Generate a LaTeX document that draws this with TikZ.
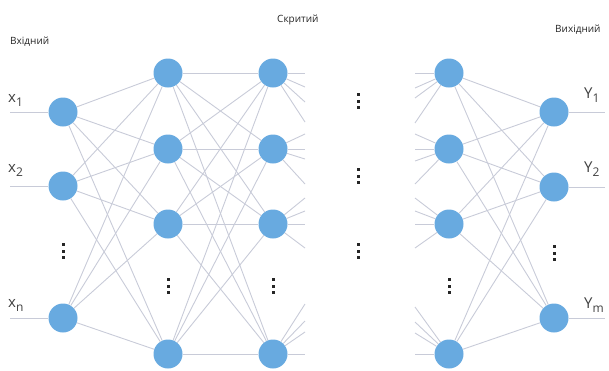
\documentclass[tikz,border=0pt]{standalone}
\usepackage{fontspec}
\setmainfont{Open Sans}
\usetikzlibrary{backgrounds}
\definecolor{nodeblue}{RGB}{104,170,224}
\definecolor{edgegray}{RGB}{200,203,216}
\newcommand\nnlab[2]{{\fontsize{15}{15}\selectfont #1}\raisebox{-4pt}{\fontsize{12}{12}\selectfont #2}}
\begin{document}
\begin{tikzpicture}[x=1pt,y=-1pt,
  neuron/.style={circle,fill=nodeblue,draw=none,minimum size=29pt,inner sep=0pt},
  conn/.style={draw=edgegray,line width=0.9pt},
  title/.style={anchor=base west,font=\fontsize{10}{10}\selectfont,text=black!85,inner sep=0pt},
  lab/.style={anchor=base west,inner sep=0pt,text=black!75},
  dotmark/.style={fill=black!85}]
\useasboundingbox (0,0) rectangle (609,370);
% titles
\node[title] (t1) at (10,44) {Вхідний};
\node[title] (t2) at (277,22) {Скритий};
\node[title] (t3) at (555,32) {Вихідний};
% input layer
\node[neuron] (i1) at (63,112) {};
\node[neuron] (i2) at (63,186) {};
\node[neuron] (i3) at (63,318) {};
% hidden layers
\foreach \c/\xx in {a/168,b/273,c/449}{
  \foreach \n/\yy in {1/73,2/149,3/224,4/354}{
    \node[neuron] (\c\n) at (\xx,\yy) {};
  }
}
% output layer
\node[neuron] (o1) at (554,112) {};
\node[neuron] (o2) at (554,187) {};
\node[neuron] (o3) at (554,318) {};
% free ends
\coordinate (ie1) at (10,112);
\coordinate (ie2) at (10,186);
\coordinate (ie3) at (10,318);
\coordinate (oe1) at (605,112);
\coordinate (oe2) at (605,187);
\coordinate (oe3) at (605,318);
% labels
\node[lab] (lx1) at (8,102) {\nnlab{x}{1}};
\node[lab] (lx2) at (8,172) {\nnlab{x}{2}};
\node[lab] (lx3) at (8,307) {\nnlab{x}{n}};
\node[lab] (ly1) at (584,98) {\nnlab{Y}{1}};
\node[lab] (ly2) at (584,172) {\nnlab{Y}{2}};
\node[lab] (ly3) at (584,308) {\nnlab{Y}{m}};
% dots
\foreach \px/\py in {63/251,168/286,273/286,449/286,358/101,358/176,358/251,554/253}{
  \foreach \dd in {-6.5,0,6.5}{
    \fill[dotmark] (\px-1.5,\py+\dd-1.5) rectangle ++(3,3);
  }
}
\begin{pgfonlayer}{background}
  \foreach \n in {1,2,3}{
    \draw[conn] (ie\n) -- (i\n);
    \draw[conn] (o\n) -- (oe\n);
    \foreach \m in {1,2,3,4}{
      \draw[conn] (i\n) -- (a\m);
      \draw[conn] (c\m) -- (o\n);
    }
  }
  \foreach \n in {1,2,3,4}{
    \foreach \m in {1,2,3,4}{
      \draw[conn] (a\n) -- (b\m);
    }
  }
  \foreach \n/\d [count=\k] in {1/0,1/14,1/29,1/49,2/-15,2/0,2/10,2/35,3/-26,3/-13,3/0,3/24,4/-50,4/-33,4/-22,4/0}{
    \path (b\n) ++(32,\d) coordinate (sb\k);
    \draw[conn] (b\n) -- (sb\k);
  }
  \foreach \n/\d [count=\k] in {1/0,1/15,1/25,1/50,2/-15,2/0,2/12,2/35,3/-26,3/-13,3/0,3/24,4/-47,4/-32,4/-21,4/0}{
    \path (c\n) ++(-34,\d) coordinate (sc\k);
    \draw[conn] (sc\k) -- (c\n);
  }
\end{pgfonlayer}
\end{tikzpicture}
\end{document}
